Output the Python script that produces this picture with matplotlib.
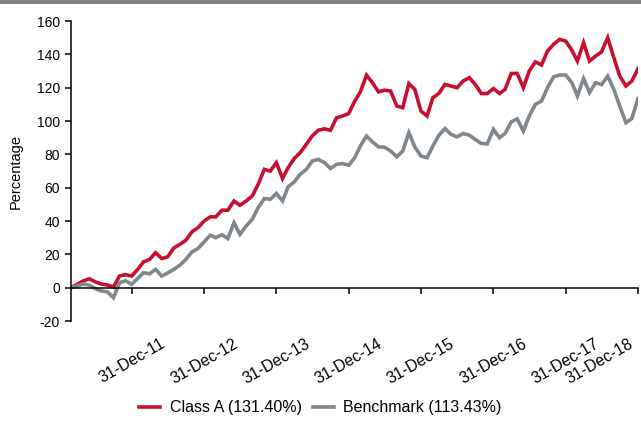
import pandas as pd
import matplotlib
matplotlib.use("Agg")
import matplotlib.pyplot as plt
import matplotlib.dates as mdates
import matplotlib.transforms as mtransforms
from matplotlib.patches import Rectangle

plt.rcParams['font.family'] = ['Liberation Sans', 'DejaVu Sans']
plt.rcParams['axes.unicode_minus'] = False

# month-end dates, Feb 2011 .. Dec 2018
dates = pd.date_range('2011-02-28', '2018-12-31', freq='ME')

class_a = [
    0, 2, 4, 5.3, 3.5, 2.2, 1.6, 0.5, 7, 7.8, 7,
    11, 15.5, 17, 21, 17.5, 18.5, 23.8, 26, 28.5, 33.5, 36, 40,
    42.5, 42.5, 46.5, 46.5, 52, 49.5, 52, 55, 62, 71, 70, 75,
    65.5, 72, 77.5, 81, 86, 91, 94.5, 95.3, 94.5, 102, 103, 104.5,
    112, 117.5, 127.5, 123, 117.5, 118.5, 118, 109, 108, 122.5, 119, 106,
    103, 114, 116.6, 122, 121, 120, 124, 126, 122, 116.5, 116.5, 119.5,
    116.5, 119, 128.5, 128.6, 120, 130, 135.5, 133.6, 142, 146, 149, 148,
    142.5, 136, 147, 136, 139, 141.5, 150, 138, 127, 121, 124, 131.4,
]

benchmark = [
    0, 1, 2.2, 1.5, -0.5, -2, -2.5, -6, 3, 4.2, 2,
    5.5, 9, 8.3, 11, 7, 8.8, 11, 13.5, 17, 21.5, 23.5, 27.5,
    31.5, 30, 31.8, 29.5, 39, 32, 37, 41, 48, 53.5, 53, 56.5,
    52, 60.5, 63.5, 68, 71, 76, 77, 75, 71.5, 74, 74.5, 73.5,
    78, 85, 91, 87.5, 84.5, 84.3, 82, 78.5, 82, 93, 84.5, 79,
    78, 85, 91.5, 95.5, 92, 90.5, 92.5, 91.5, 89, 86.5, 86.3, 95,
    90, 92.5, 99.5, 101.3, 94, 103, 110, 112, 120, 126.5, 127.6, 127.6,
    123, 115, 125.5, 117, 123, 121.8, 127, 119, 109, 99, 101.5, 113.43,
]

labels = ['Class A (131.40%)', 'Benchmark (113.43%)']
tick_dates = pd.to_datetime(['2011-12-31', '2012-12-31', '2013-12-31', '2014-12-31',
                             '2015-12-31', '2016-12-31', '2017-12-31', '2018-12-31'])

red = '#c8102e'
grey = '#7f878c'

fig = plt.figure(figsize=(6.41, 4.21), dpi=100)
ax = fig.add_axes([0.1108, 0.2375, 0.8845, 0.7125])

ax.plot(dates, class_a, color=red, lw=2.6, label=labels[0], solid_joinstyle='miter')
ax.plot(dates, benchmark, color=grey, lw=2.6, label=labels[1], solid_joinstyle='miter')

ax.set_ylim(-20, 160)
ax.set_yticks(range(-20, 161, 20))
ax.set_xlim(dates[0], dates[-1])
ax.set_xticks(tick_dates)
ax.xaxis.set_major_formatter(mdates.DateFormatter('%d-%b-%y'))

for s in ['top', 'right']:
    ax.spines[s].set_visible(False)
ax.spines['bottom'].set_position(('data', 0))
ax.spines['left'].set_linewidth(1.1)
ax.spines['bottom'].set_linewidth(1.1)

ax.tick_params(axis='y', direction='out', length=4, width=1.1, labelsize=10, pad=4)
ax.tick_params(axis='x', direction='out', length=4, width=1.1, labelsize=11.5, pad=31,
               labelrotation=30)
xlabels = ax.get_xticklabels()
for t in xlabels:
    t.set_ha('center')
# last label pulled in so it stays inside the figure
xlabels[-1].set_transform(xlabels[-1].get_transform() +
                          mtransforms.ScaledTranslation(-38 / 100, 0, fig.dpi_scale_trans))

ax.set_ylabel('Percentage', fontsize=10.5)
ax.yaxis.set_label_coords(-0.085, 0.5)

fig.legend(loc='center', bbox_to_anchor=(0.5, 0.031), ncol=2, frameon=False,
           fontsize=11.5, handlelength=1.3, handletextpad=0.6, columnspacing=0.7)

# grey band across the top
fig.add_artist(Rectangle((0, 0.99), 1, 0.01, transform=fig.transFigure,
                         color='#7d858b', lw=0))

fig.savefig('out.png', dpi=100)
